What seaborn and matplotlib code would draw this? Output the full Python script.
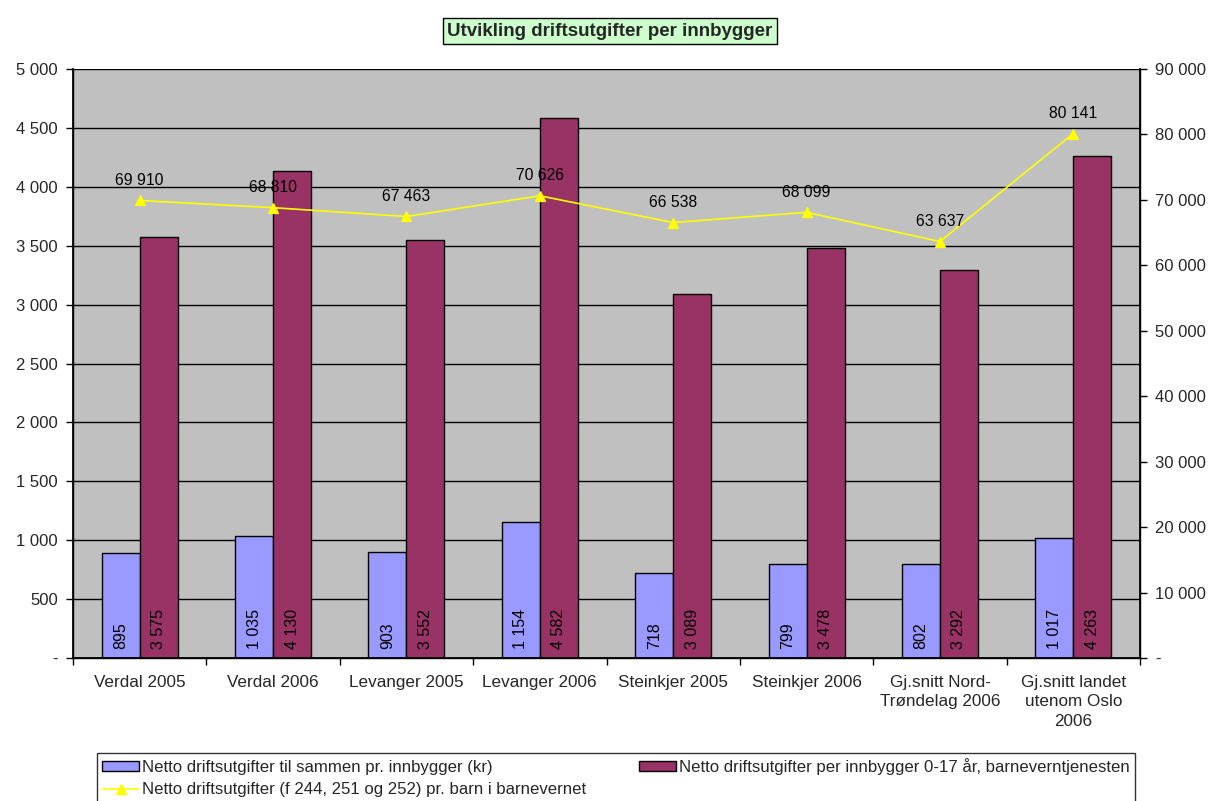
import matplotlib
matplotlib.use("Agg")
import matplotlib.pyplot as plt
import seaborn as sns
import pandas as pd
import numpy as np
from matplotlib.ticker import FuncFormatter, MultipleLocator, FixedLocator
from matplotlib.patches import Patch
from matplotlib.lines import Line2D

categories = ["Verdal 2005", "Verdal 2006", "Levanger 2005", "Levanger 2006",
              "Steinkjer 2005", "Steinkjer 2006", "Gj.snitt Nord-\nTrøndelag 2006",
              "Gj.snitt landet\nutenom Oslo\n2006"]
total_per_capita = [895, 1035, 903, 1154, 718, 799, 802, 1017]
child_welfare_per_capita = [3575, 4130, 3552, 4582, 3089, 3478, 3292, 4263]
per_child = [69910, 68810, 67463, 70626, 66538, 68099, 63637, 80141]

s1 = "Netto driftsutgifter til sammen pr. innbygger (kr)"
s2 = "Netto driftsutgifter per innbygger 0-17 år, barneverntjenesten"
s3 = "Netto driftsutgifter (f 244, 251 og 252) pr. barn i barnevernet"

c1 = "#9999ff"
c2 = "#993366"
c3 = "#ffff00"

sns.set_theme(style="white")
plt.rcParams["font.family"] = ["Liberation Sans", "DejaVu Sans"]

def fmt(v):
    if abs(v) < 1e-9:
        return "-"
    return f"{v:,.0f}".replace(",", " ")

df = pd.DataFrame({
    "cat": categories * 2,
    "value": total_per_capita + child_welfare_per_capita,
    "series": [s1] * len(categories) + [s2] * len(categories),
})
dline = pd.DataFrame({"cat": categories, "value": per_child})

fig = plt.figure(figsize=(12.14, 8.01), dpi=100)
ax = fig.add_axes([73/1214, 1-658/801, (1140-73)/1214, (658-69)/801])
ax.set_facecolor("#c0c0c0")

sns.barplot(data=df, x="cat", y="value", hue="series", order=categories,
            hue_order=[s1, s2], palette=[c1, c2], width=0.57, gap=0,
            edgecolor="black", linewidth=1, saturation=1, legend=False, ax=ax,
            errorbar=None)
ax.set_xlim(-0.5, len(categories) - 0.5)
ax.set_ylim(0, 5000)
ax.yaxis.set_major_locator(MultipleLocator(500))
ax.yaxis.set_major_formatter(FuncFormatter(lambda v, p: fmt(v)))
ax.set_axisbelow(True)
ax.grid(axis="y", color="black", linewidth=1)
ax.grid(axis="x", visible=False)
ax.set_xlabel("")
ax.set_ylabel("")
for sp in ax.spines.values():
    sp.set_color("black")
    sp.set_linewidth(1)
ax.spines["top"].set_visible(False)

# bar labels
for patch in ax.patches:
    h = patch.get_height()
    if h <= 0:
        continue
    xc = patch.get_x() + patch.get_width() / 2
    ax.text(xc, 75, fmt(h), rotation=90, ha="center", va="bottom",
            fontsize=11.5, color="black")

# x ticks
ax.set_xticks(range(len(categories)))
ax.set_xticklabels(categories, fontsize=12.3, ha="center", linespacing=1.4)
ax.tick_params(axis="x", which="major", length=0, pad=12)
ax.xaxis.set_minor_locator(FixedLocator(np.arange(-0.5, len(categories), 1)))
ax.tick_params(axis="x", which="minor", length=5, width=1, color="black", direction="out", bottom=True)
ax.tick_params(axis="y", length=5, width=1, color="black", direction="out", left=True, labelsize=12, pad=6)

ax2 = ax.twinx()
sns.pointplot(data=dline, x="cat", y="value", order=categories, color=c3,
              marker="^", markersize=7, linewidth=1.2, ax=ax2, errorbar=None)
ax2.set_ylim(0, 90000)
ax2.set_xlim(-0.5, len(categories) - 0.5)
ax2.yaxis.set_major_locator(MultipleLocator(10000))
ax2.yaxis.set_major_formatter(FuncFormatter(lambda v, p: fmt(v)))
ax2.set_xlabel("")
ax2.set_ylabel("")
ax2.grid(False)
for sp in ax2.spines.values():
    sp.set_color("black")
ax2.spines["top"].set_visible(False)
ax2.tick_params(axis="y", length=5, width=1, color="black", direction="out", right=True, labelsize=12, pad=6)

for i, v in enumerate(per_child):
    ax2.text(i, v + 1900, fmt(v), ha="center", va="bottom", fontsize=11.3, color="black")

fig.text(610/1214, 1-31/801, "Utvikling driftsutgifter per innbygger", ha="center", va="center",
         fontsize=13.5, fontweight="bold",
         bbox=dict(boxstyle="square,pad=0.25", facecolor="#ccffcc", edgecolor="black", linewidth=1))

handles = [Patch(facecolor=c1, edgecolor="black", label=s1),
           Line2D([0], [0], color=c3, marker="^", markersize=7, linewidth=1.2, label=s3),
           Patch(facecolor=c2, edgecolor="black", label=s2)]
leg = fig.legend(handles=handles, loc="upper left", ncol=2,
                 bbox_to_anchor=(97/1214, 1-753/801),
                 frameon=True, fancybox=False, edgecolor="black",
                 prop={"family": ["Liberation Sans"], "size": 12.1},
                 handlelength=2.2, handleheight=0.5, handletextpad=0.15,
                 columnspacing=3.2,
                 borderaxespad=0, borderpad=0.3, labelspacing=0.42)
leg.get_frame().set_linewidth(1)

fig.savefig("out.png", dpi=100, facecolor="white")
